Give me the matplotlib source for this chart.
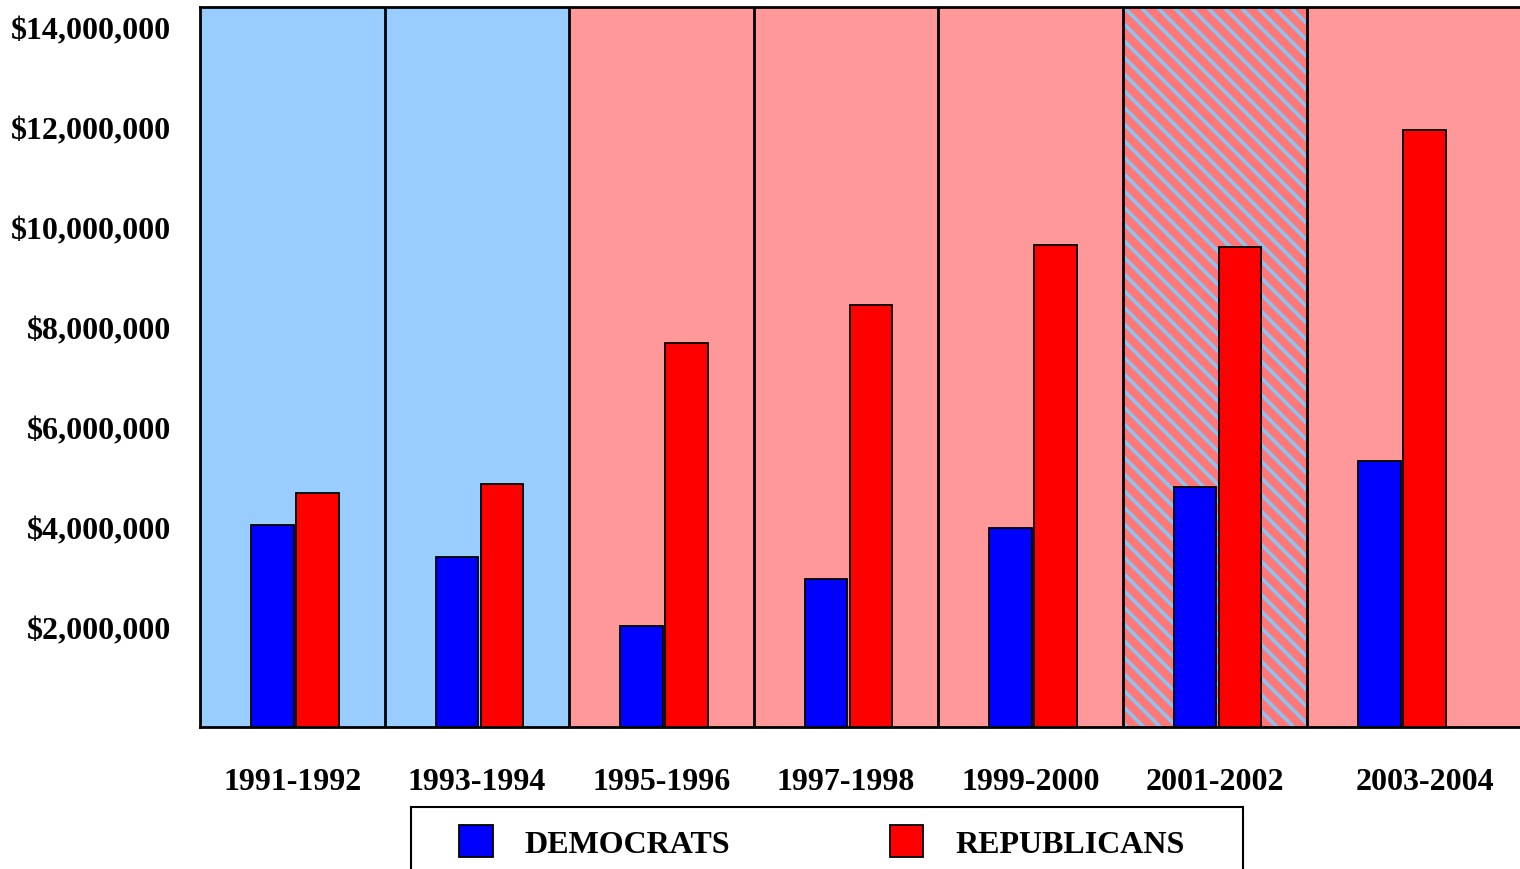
import matplotlib
matplotlib.use('Agg')
import matplotlib.pyplot as plt
from matplotlib.patches import Rectangle, Patch
from matplotlib.ticker import FuncFormatter

periods = ['1991-1992', '1993-1994', '1995-1996', '1997-1998',
           '1999-2000', '2001-2002', '2003-2004']
democrats = [4.04e6, 3.40e6, 2.02e6, 2.96e6, 3.98e6, 4.80e6, 5.32e6]
republicans = [4.68e6, 4.86e6, 7.68e6, 8.44e6, 9.64e6, 9.60e6, 11.94e6]
# party in control for each cycle ('split' = divided)
control = ['D', 'D', 'R', 'R', 'R', 'split', 'R']
y_ticks = [2e6, 4e6, 6e6, 8e6, 10e6, 12e6, 14e6]

DEM_BLUE = '#0000FF'
REP_RED = '#FF0000'
DEM_BG = '#99CCFF'
REP_BG = '#FF9999'

plt.rcParams['font.family'] = ['Liberation Serif', 'DejaVu Serif']
plt.rcParams['font.weight'] = 'bold'
plt.rcParams['hatch.linewidth'] = 2.6

fig = plt.figure(figsize=(15.2, 8.7), dpi=100)
ax = fig.add_axes([200 / 1520, 1 - 728 / 870, 1 - 200 / 1520, 720 / 870])

n = len(periods)
x_right = 1320 / 184.5
# last panel runs past the right edge
spans = [(i, i + 1 if i < n - 1 else x_right + 0.12) for i in range(n)]
for (left, right), c in zip(spans, control):
    if c == 'D':
        ax.axvspan(left, right, facecolor=DEM_BG, edgecolor='none', zorder=0)
    elif c == 'R':
        ax.axvspan(left, right, facecolor=REP_BG, edgecolor='none', zorder=0)
    else:
        ax.axvspan(left, right, facecolor='#FF7878', edgecolor='#8CC3F0',
                   hatch='\\\\', linewidth=0, zorder=0)
for i in range(1, n):
    ax.axvline(i, color='black', linewidth=2, zorder=1)

centers = [i + 0.515 for i in range(n)]
w = 0.232
ax.bar([c - 0.122 for c in centers], democrats, width=w, color=DEM_BLUE,
       edgecolor='black', linewidth=1.3, zorder=3)
ax.bar([c + 0.122 for c in centers], republicans, width=w, color=REP_RED,
       edgecolor='black', linewidth=1.3, zorder=3)

ax.set_xlim(0, x_right)
ax.set_ylim(0, 14.4e6)
ax.set_yticks(y_ticks)
ax.yaxis.set_major_formatter(FuncFormatter(lambda v, p: '${:,.0f}'.format(v)))
ax.set_xticks([(l + r) / 2 for l, r in spans])
ax.set_xticklabels(periods)
ax.tick_params(axis='y', length=0, pad=21, labelsize=23)
ax.tick_params(axis='x', length=0, pad=29, labelsize=23)

for side in ['left', 'top', 'bottom']:
    ax.spines[side].set_linewidth(2)
    ax.spines[side].set_color('black')
ax.spines['right'].set_visible(False)

# legend box, runs off the bottom of the figure
fig.patches.append(Rectangle((411 / 1520, 1 - 880 / 870), 832 / 1520, 72 / 870,
                             transform=fig.transFigure, facecolor='white',
                             edgecolor='black', linewidth=1.5))
handles = [Patch(facecolor=DEM_BLUE, edgecolor='black', linewidth=1.3, label='DEMOCRATS'),
           Patch(facecolor=REP_RED, edgecolor='black', linewidth=1.3, label='REPUBLICANS')]
fig.legend(handles=handles, loc='upper left', bbox_to_anchor=(459 / 1520, 1 - 826 / 870),
           ncol=2, frameon=False, fontsize=23, borderpad=0, borderaxespad=0,
           handlelength=1.05, handleheight=1.15, handletextpad=1.0, columnspacing=5.0)

fig.savefig('out.png', dpi=100)
